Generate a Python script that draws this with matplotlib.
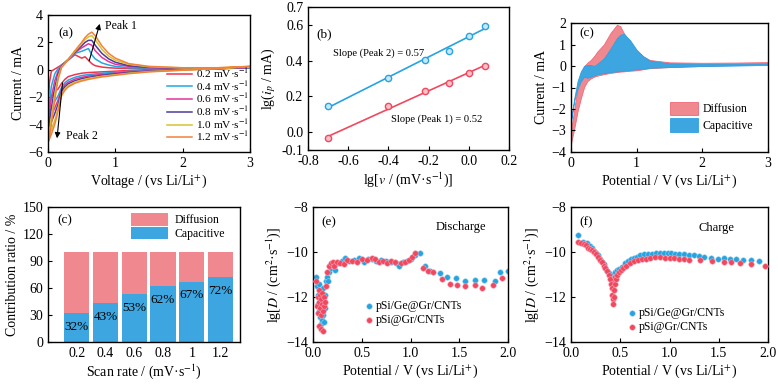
import numpy as np
import matplotlib
matplotlib.use("Agg")
import matplotlib.pyplot as plt

plt.rcParams['font.family'] = 'serif'
plt.rcParams['font.serif'] = ['Liberation Serif', 'DejaVu Serif']
plt.rcParams['mathtext.fontset'] = 'stix'
plt.rcParams['font.size'] = 10
plt.rcParams['axes.linewidth'] = 1.0
plt.rcParams['xtick.direction'] = 'in'
plt.rcParams['ytick.direction'] = 'in'
plt.rcParams['xtick.major.size'] = 3
plt.rcParams['ytick.major.size'] = 3

# ---- (a) CV curves at different scan rates ----
rates = ['0.2', '0.4', '0.6', '0.8', '1.0', '1.2']
rate_colors = ['#f0344e', '#1fa8e2', '#e2369c', '#4b3ba2', '#d6c232', '#f2823a']
v_anodic = [0, 0.02, 0.05, 0.1, 0.15, 0.2, 0.3, 0.4, 0.5, 0.55, 0.6, 0.65, 0.7, 0.8, 0.9, 1.0, 1.2, 1.5, 2.0, 2.5, 3.0]
i_anodic = [
    [-2.8, -1.0, -0.1, 0.05, 0.2, 0.35, 0.7, 1.1, 0.85, 0.95, 0.7, 0.45, 0.3, 0.2, 0.15, 0.12, 0.1, 0.1, 0.1, 0.1, 0.15],
    [-3.3, -2.5, -1.2, -0.3, 0.1, 0.35, 0.75, 1.2, 1.35, 1.45, 1.55, 1.1, 0.8, 0.5, 0.35, 0.25, 0.15, 0.12, 0.1, 0.1, 0.15],
    [-3.8, -3.2, -2.0, -0.8, -0.1, 0.3, 0.75, 1.25, 1.6, 1.75, 1.9, 1.8, 1.4, 0.9, 0.6, 0.4, 0.25, 0.15, 0.1, 0.1, 0.18],
    [-4.3, -3.8, -2.8, -1.3, -0.3, 0.25, 0.75, 1.3, 1.75, 2.0, 2.15, 2.15, 1.8, 1.2, 0.8, 0.55, 0.3, 0.18, 0.12, 0.12, 0.2],
    [-5.0, -4.5, -3.5, -1.8, -0.5, 0.2, 0.75, 1.35, 1.9, 2.2, 2.4, 2.5, 2.2, 1.5, 1.0, 0.7, 0.4, 0.22, 0.14, 0.14, 0.22],
    [-5.3, -4.9, -4.0, -2.2, -0.7, 0.15, 0.75, 1.4, 2.0, 2.35, 2.6, 2.75, 2.5, 1.75, 1.2, 0.85, 0.45, 0.25, 0.15, 0.15, 0.25],
]
v_cathodic = [3.0, 2.5, 2.0, 1.5, 1.2, 1.0, 0.8, 0.6, 0.5, 0.4, 0.3, 0.25, 0.2, 0.15, 0.1, 0.05, 0.0]
i_cathodic = [
    [0.15, 0.08, 0.05, 0.0, -0.05, -0.1, -0.15, -0.2, -0.25, -0.35, -0.5, -0.7, -1.0, -1.4, -1.6, -2.0, -2.8],
    [0.15, 0.07, 0.03, -0.05, -0.12, -0.18, -0.25, -0.35, -0.42, -0.55, -0.75, -0.95, -1.3, -1.9, -2.3, -2.8, -3.3],
    [0.18, 0.07, 0.02, -0.08, -0.16, -0.24, -0.33, -0.45, -0.55, -0.68, -0.9, -1.1, -1.45, -2.2, -2.8, -3.3, -3.8],
    [0.2, 0.08, 0.0, -0.1, -0.2, -0.3, -0.4, -0.55, -0.65, -0.8, -1.02, -1.25, -1.6, -2.5, -3.2, -3.8, -4.3],
    [0.22, 0.08, -0.02, -0.13, -0.25, -0.36, -0.47, -0.63, -0.75, -0.9, -1.15, -1.4, -1.75, -2.8, -3.7, -4.4, -5.0],
    [0.25, 0.1, -0.03, -0.15, -0.28, -0.4, -0.52, -0.7, -0.82, -0.98, -1.25, -1.5, -1.9, -3.0, -4.0, -4.7, -5.3],
]

# ---- (b) log peak current vs log scan rate ----
lg_v = [-0.7, -0.4, -0.22, -0.1, 0.0, 0.08]
lg_ip_peak2 = [0.145, 0.305, 0.405, 0.455, 0.54, 0.595]
lg_ip_peak1 = [-0.035, 0.145, 0.23, 0.275, 0.33, 0.37]

# ---- (c) capacitive / diffusion separation of one CV ----
v_sep = [0, 0.05, 0.1, 0.15, 0.2, 0.25, 0.3, 0.35, 0.4, 0.5, 0.6, 0.7, 0.75, 0.8, 0.9, 1.0, 1.1, 1.2, 1.5, 2.0, 2.5, 3.0]
total_up = [-3.0, -2.0, -1.0, -0.35, 0.0, 0.15, 0.28, 0.45, 0.67, 1.0, 1.53, 1.92, 1.85, 1.55, 1.1, 0.7, 0.45, 0.28, 0.17, 0.15, 0.16, 0.18]
total_dn = [-3.6, -2.9, -2.1, -1.5, -0.97, -0.7, -0.58, -0.5, -0.45, -0.38, -0.32, -0.28, -0.26, -0.25, -0.22, -0.2, -0.15, -0.1, -0.05, 0.0, 0.05, 0.1]
cap_up = [-2.5, -1.5, -0.7, -0.25, 0.0, 0.05, 0.05, 0.0, 0.1, 0.35, 0.8, 1.3, 1.45, 1.5, 1.2, 0.75, 0.45, 0.25, 0.12, 0.1, 0.1, 0.12]
cap_dn = [-2.6, -1.6, -1.05, -0.7, -0.5, -0.55, -0.5, -0.44, -0.38, -0.33, -0.28, -0.25, -0.23, -0.22, -0.19, -0.15, -0.12, -0.08, -0.05, 0.0, 0.02, 0.05]

# ---- (d) contribution ratio ----
scan_rates = [0.2, 0.4, 0.6, 0.8, 1.0, 1.2]
scan_labels = ['0.2', '0.4', '0.6', '0.8', '1', '1.2']
capacitive_pct = [32, 43, 53, 62, 67, 72]

# ---- (e) discharge diffusion coefficient ----
dis_x_ge = [0.03, 0.04, 0.05, 0.05, 0.06, 0.06, 0.07, 0.07, 0.08, 0.08, 0.09, 0.09, 0.10, 0.10, 0.11, 0.11, 0.12, 0.12,
            0.13, 0.14, 0.15, 0.16, 0.18, 0.20, 0.23, 0.26, 0.30, 0.33, 0.37, 0.42, 0.47, 0.52, 0.56, 0.60, 0.65, 0.70,
            0.75, 0.80, 0.85, 0.88, 0.92, 0.96, 1.00, 1.05, 1.10, 1.15, 1.20, 1.30, 1.37, 1.47, 1.56, 1.66, 1.75, 1.87,
            1.92, 2.00]
dis_y_ge = [-11.1, -11.5, -11.9, -12.3, -12.6, -11.4, -12.0, -12.9, -11.8, -13.2, -12.4, -13.0, -11.6, -12.8, -12.2, -13.1,
            -11.9, -12.5, -11.3, -11.1, -11.3, -10.9, -10.7, -10.6, -10.8, -10.5, -10.4, -10.25, -10.4, -10.35, -10.25,
            -10.45, -10.3, -10.3, -10.4, -10.35, -10.4, -10.45, -10.5, -10.6, -10.45, -10.4, -10.3, -10.15, -10.05,
            -10.6, -10.85, -10.95, -11.1, -11.15, -11.3, -11.25, -11.25, -11.3, -10.9, -10.85]
dis_x_si = [0.03, 0.04, 0.05, 0.05, 0.06, 0.06, 0.06, 0.07, 0.07, 0.08, 0.08, 0.08, 0.09, 0.09, 0.10, 0.10, 0.11, 0.11,
            0.12, 0.13, 0.14, 0.16, 0.18, 0.20, 0.22, 0.25, 0.28, 0.32, 0.35, 0.40, 0.45, 0.50, 0.55, 0.60, 0.64, 0.68,
            0.72, 0.76, 0.80, 0.84, 0.90, 0.94, 0.98, 1.02, 1.05, 1.13, 1.18, 1.23, 1.32, 1.41, 1.48, 1.56, 1.66, 1.73,
            1.85, 1.94]
dis_y_si = [-11.3, -12.4, -12.0, -12.7, -11.7, -12.2, -13.3, -11.9, -12.5, -12.1, -12.8, -13.4, -11.8, -12.3, -12.6, -13.5,
            -12.0, -12.4, -12.2, -11.5, -10.9, -10.6, -10.5, -10.45, -10.6, -10.45, -10.5, -10.55, -10.35, -10.4, -10.45,
            -10.3, -10.35, -10.25, -10.3, -10.45, -10.4, -10.5, -10.4, -10.45, -10.5, -10.45, -10.35, -10.2, -10.05,
            -10.7, -10.85, -10.9, -11.2, -11.4, -11.45, -11.5, -11.45, -11.6, -11.45, -11.15]

# ---- (f) charge diffusion coefficient ----
chg_x_ge = [0.07, 0.12, 0.16, 0.19, 0.21, 0.23, 0.25, 0.27, 0.29, 0.31, 0.33, 0.35, 0.37, 0.39, 0.41, 0.42, 0.43, 0.44,
            0.45, 0.47, 0.49, 0.52, 0.55, 0.58, 0.61, 0.64, 0.67, 0.70, 0.74, 0.78, 0.82, 0.86, 0.90, 0.94, 0.98, 1.02,
            1.06, 1.10, 1.15, 1.20, 1.25, 1.30, 1.35, 1.42, 1.49, 1.55, 1.61, 1.68, 1.75, 1.83, 1.91]
chg_y_ge = [-9.25, -9.55, -9.6, -9.75, -9.8, -9.95, -10.05, -10.15, -10.3, -10.45, -10.55, -10.7, -10.85, -10.95, -11.05,
            -11.2, -11.0, -11.1, -10.9, -10.8, -10.75, -10.65, -10.5, -10.4, -10.3, -10.25, -10.2, -10.15, -10.1, -10.1,
            -10.1, -10.05, -10.05, -10.05, -10.05, -10.05, -10.07, -10.1, -10.1, -10.12, -10.15, -10.17, -10.22, -10.25,
            -10.29, -10.28, -10.3, -10.33, -10.35, -10.35, -10.4]
chg_x_si = [0.07, 0.10, 0.13, 0.15, 0.17, 0.19, 0.21, 0.23, 0.25, 0.27, 0.29, 0.31, 0.33, 0.35, 0.37, 0.39, 0.40, 0.41,
            0.42, 0.42, 0.43, 0.43, 0.44, 0.44, 0.45, 0.45, 0.46, 0.47, 0.49, 0.51, 0.53, 0.56, 0.60, 0.64, 0.68, 0.72,
            0.76, 0.80, 0.85, 0.90, 0.95, 1.00, 1.05, 1.10, 1.15, 1.20, 1.31, 1.43, 1.55, 1.62, 1.72, 1.83, 1.97]
chg_y_si = [-9.55, -9.6, -9.65, -9.7, -9.8, -9.85, -9.9, -10.0, -10.1, -10.2, -10.35, -10.45, -10.6, -10.7, -10.85, -11.0,
            -11.2, -11.4, -11.6, -11.9, -12.1, -12.3, -12.0, -11.7, -11.4, -11.1, -11.2, -11.0, -10.9, -10.8, -10.7,
            -10.6, -10.5, -10.4, -10.35, -10.3, -10.3, -10.25, -10.2, -10.22, -10.25, -10.27, -10.28, -10.3, -10.33,
            -10.35, -10.37, -10.4, -10.44, -10.44, -10.47, -10.55, -10.62]

RED = '#f0485f'
BLUE = '#27a3e0'
PINK = '#f08890'
CAPBLUE = '#3da6e0'

W, H = 778, 384


def rect(l, r, t, b):
    return [l / W, 1 - b / H, (r - l) / W, (b - t) / H]


fig = plt.figure(figsize=(W / 100, H / 100), dpi=100)

# (a)
ax = fig.add_axes(rect(48, 250, 15, 152))
for k in range(len(rates)):
    xs = v_anodic + v_cathodic
    ys = i_anodic[k] + i_cathodic[k]
    ax.plot(xs, ys, color=rate_colors[k], lw=1.1, label=rates[k] + ' mV·s$^{-1}$')
ax.annotate('', xy=(0.78, 3.55), xytext=(0.6, 0.45),
            arrowprops=dict(arrowstyle='-|>', color='k', lw=0.8, mutation_scale=8))
ax.annotate('', xy=(0.13, -5.2), xytext=(0.22, -0.75),
            arrowprops=dict(arrowstyle='-|>', color='k', lw=0.8, mutation_scale=8))
ax.text(0.85, 3.2, 'Peak 1', fontsize=8.5, va='center')
ax.text(0.26, -4.85, 'Peak 2', fontsize=8.5, va='center')
ax.text(0.05, 0.87, '(a)', transform=ax.transAxes, fontsize=9.5, va='center')
ax.set_xlim(0, 3)
ax.set_ylim(-6, 4)
ax.set_xticks([0, 1, 2, 3])
ax.set_yticks([-6, -4, -2, 0, 2, 4])
ax.set_xlabel('Voltage / (vs Li/Li$^{+}$)', labelpad=2)
ax.set_ylabel('Current / mA', labelpad=2)
ax.legend(loc='lower right', bbox_to_anchor=(1.02, 0.03), frameon=False, fontsize=8.2,
          handlelength=2.2, handletextpad=0.4, labelspacing=-0.1, borderaxespad=0)

# (b)
ax = fig.add_axes(rect(308, 509, 7, 150))
for ys, col in [(lg_ip_peak2, BLUE), (lg_ip_peak1, RED)]:
    fit = np.polyfit(lg_v, ys, 1)
    ax.plot(lg_v, np.polyval(fit, lg_v), color=col, lw=1.2)
    ax.plot(lg_v, ys, 'o', ms=4.5, mfc='#c8e8f8' if col == BLUE else '#f8c0c8', mec=col, mew=1.0)
ax.text(-0.675, 0.44, 'Slope (Peak 2) = 0.57', fontsize=7.6, va='center')
ax.text(-0.385, 0.07, 'Slope (Peak 1) = 0.52', fontsize=7.6, va='center')
ax.text(0.04, 0.81, '(b)', transform=ax.transAxes, fontsize=9.5, va='center')
ax.set_xlim(-0.8, 0.2)
ax.set_ylim(-0.1, 0.7)
ax.set_xticks([-0.8, -0.6, -0.4, -0.2, 0.0, 0.2])
ax.set_yticks([-0.1, 0.0, 0.2, 0.4, 0.6, 0.7])
ax.xaxis.set_major_formatter(plt.FormatStrFormatter('%.1f'))
ax.yaxis.set_major_formatter(plt.FormatStrFormatter('%.1f'))
ax.set_xlabel('lg[$v$ / (mV·s$^{-1}$)]', labelpad=2)
ax.set_ylabel('lg($i_{p}$ / mA)', labelpad=2)

# (c)
ax = fig.add_axes(rect(571, 768, 23, 152))
ax.fill_between(v_sep, total_dn, total_up, color=PINK, lw=0.6, ec='#f06878', label='Diffusion')
ax.fill_between(v_sep, cap_dn, cap_up, color=CAPBLUE, lw=0.6, ec='#2fa0e0', label='Capacitive')
ax.text(0.045, 0.92, '(c)', transform=ax.transAxes, fontsize=9.5, va='center')
ax.set_xlim(0, 3)
ax.set_ylim(-4, 2)
ax.set_xticks([0, 1, 2, 3])
ax.set_yticks([-4, -3, -2, -1, 0, 1, 2])
ax.set_xlabel('Potential / V (vs Li/Li$^{+}$)', labelpad=2)
ax.set_ylabel('Current / mA', labelpad=2)
ax.legend(loc='upper left', bbox_to_anchor=(0.5, 0.39), frameon=False, fontsize=8.5,
          handlelength=2.4, handleheight=1.4, handletextpad=0.4, labelspacing=0.25, borderaxespad=0, borderpad=0)

# (d)
ax = fig.add_axes(rect(48, 240, 207, 342))
diffusion_pct = [100 - c for c in capacitive_pct]
ax.bar(scan_rates, capacitive_pct, width=0.175, color=CAPBLUE, label='Capacitive')
ax.bar(scan_rates, diffusion_pct, width=0.175, bottom=capacitive_pct, color=PINK, label='Diffusion')
for xv, c in zip(scan_rates, capacitive_pct):
    ax.text(xv, c - 15, f'{c}%', ha='center', va='center', fontsize=9.5)
ax.text(0.047, 0.9, '(c)', transform=ax.transAxes, fontsize=9.5, va='center')
ax.set_xlim(0, 1.335)
ax.set_ylim(0, 150)
ax.set_xticks(scan_rates)
ax.set_xticklabels(scan_labels)
ax.tick_params(axis='x', length=0)
ax.set_yticks([0, 30, 60, 90, 120, 150])
ax.set_xlabel('Scan rate / (mV·s$^{-1}$)', labelpad=2)
ax.set_ylabel('Contribution ratio / %', labelpad=2)
h, l = ax.get_legend_handles_labels()
ax.legend(h[::-1], l[::-1], loc='upper left', bbox_to_anchor=(0.43, 0.955), frameon=False, fontsize=8.5,
          handlelength=3.2, handleheight=1.25, handletextpad=0.5, labelspacing=0.05, borderaxespad=0, borderpad=0)

# (e) and (f)
panels = [
    (rect(313, 508, 207, 342), dis_x_ge, dis_y_ge, dis_x_si, dis_y_si, '(e)', 'Discharge', (1.52, -8.9), (0.27, 0.31)),
    (rect(571, 768, 207, 342), chg_x_ge, chg_y_ge, chg_x_si, chg_y_si, '(f)', 'Charge', (1.48, -8.95), (0.29, 0.26)),
]
for pos, xg, yg, xs_, ys_, tag, note, npos, lpos in panels:
    ax = fig.add_axes(pos)
    ax.scatter(xg, yg, s=16, color=BLUE, edgecolors='#9ad4f2', linewidths=0.4, label='pSi/Ge@Gr/CNTs', zorder=2)
    ax.scatter(xs_, ys_, s=16, color=RED, edgecolors='#f8a6b4', linewidths=0.4, label='pSi@Gr/CNTs', zorder=3)
    ax.text(npos[0], npos[1], note, fontsize=9, ha='center', va='center')
    ax.text(0.045, 0.89, tag, transform=ax.transAxes, fontsize=9.5, va='center')
    ax.set_xlim(0, 2.0)
    ax.set_ylim(-14, -8)
    ax.set_xticks([0.0, 0.5, 1.0, 1.5, 2.0])
    ax.xaxis.set_major_formatter(plt.FormatStrFormatter('%.1f'))
    ax.set_yticks([-14, -12, -10, -8])
    ax.set_xlabel('Potential / V (vs Li/Li$^{+}$)', labelpad=2)
    ax.set_ylabel('lg[$D$ / (cm$^{2}$·s$^{-1}$)]', labelpad=2)
    ax.legend(loc='upper left', bbox_to_anchor=lpos, frameon=False, fontsize=8.5,
              handlelength=0.6, handletextpad=0.3, labelspacing=0.15, borderaxespad=0, borderpad=0,
              scatterpoints=1)

fig.savefig('out.png', dpi=100)
